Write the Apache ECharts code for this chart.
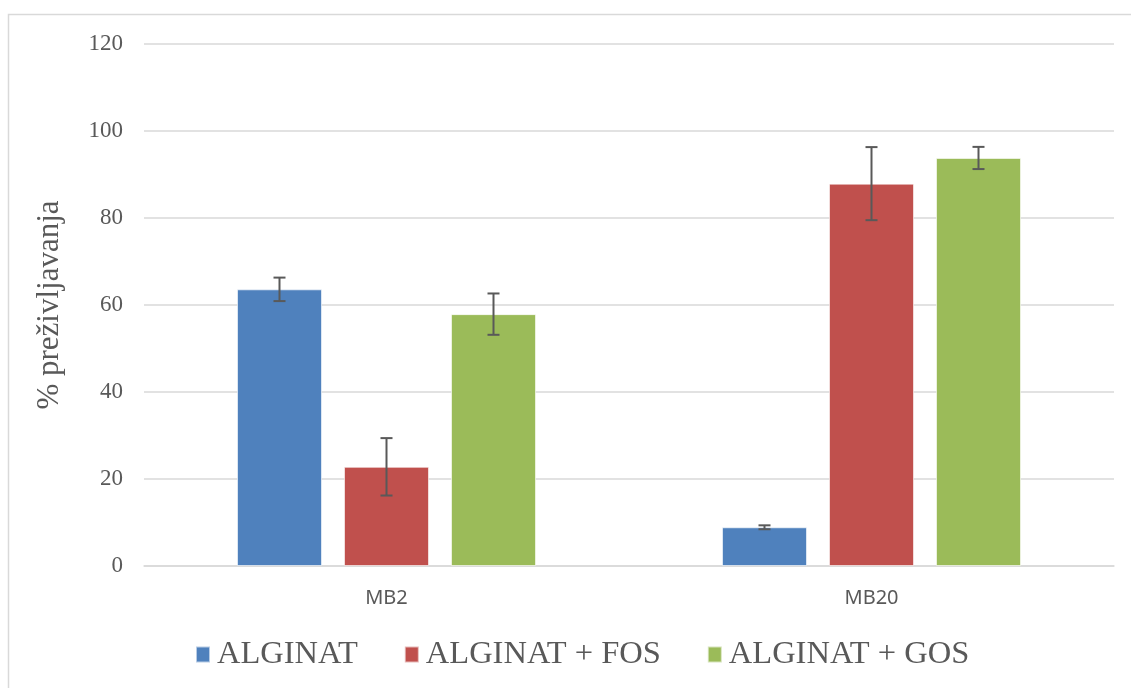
<!DOCTYPE html>
<html>
<head>
<meta charset="utf-8">
<script src="https://cdn.jsdelivr.net/npm/echarts@6/dist/echarts.min.js"></script>
<style>html,body{margin:0;padding:0;background:#fff}#c{width:1131px;height:688px}</style>
</head>
<body>
<div id="c"></div>
<script>
const categories = ['MB2', 'MB20'];
const seriesNames = ['ALGINAT', 'ALGINAT + FOS', 'ALGINAT + GOS'];
const alginat = [63.6, 8.9];
const alginatFos = [22.8, 87.9];
const alginatGos = [57.9, 93.8];
const errAlginat = [2.7, 0.45];
const errAlginatFos = [6.6, 8.4];
const errAlginatGos = [4.75, 2.55];
const yTicks = [0, 20, 40, 60, 80, 100, 120];
const yTitle = '% preživljavanja';

const colors = ['#4F81BD', '#C0504D', '#9BBB59'];
const values = [alginat, alginatFos, alginatGos];
const errs = [errAlginat, errAlginatFos, errAlginatGos];
const BAR_W = 85, BAR_GAP = 22;

const chart = echarts.init(document.getElementById('c'));
const series = [];
values.forEach((v, i) => {
  series.push({
    name: seriesNames[i], type: 'bar', data: v,
    barWidth: BAR_W, barGap: (BAR_GAP / BAR_W * 100) + '%',
    itemStyle: { color: colors[i], borderColor: 'rgba(255,255,255,0.6)', borderWidth: 1 },
    emphasis: { disabled: true }
  });
});
values.forEach((v, i) => {
  const data = v.map((val, k) => [k, val - errs[i][k], val + errs[i][k]]);
  series.push({
    type: 'custom', name: 'err' + i, data: data, z: 10, silent: true,
    renderItem: function (params, api) {
      const off = (i - 1) * (BAR_W + BAR_GAP);
      const lo = api.coord([api.value(0), api.value(1)]);
      const hi = api.coord([api.value(0), api.value(2)]);
      const x = lo[0] + off, hw = 6;
      const st = { stroke: '#595959', lineWidth: 2 };
      return { type: 'group', children: [
        { type: 'line', shape: { x1: x, y1: lo[1], x2: x, y2: hi[1] }, style: st },
        { type: 'line', shape: { x1: x - hw, y1: lo[1], x2: x + hw, y2: lo[1] }, style: st },
        { type: 'line', shape: { x1: x - hw, y1: hi[1], x2: x + hw, y2: hi[1] }, style: st }
      ]};
    }
  });
});

chart.setOption({
  animation: false,
  graphic: [{ type: 'rect', shape: { x: 8.5, y: 14.5, width: 1200, height: 800 },
    style: { fill: 'none', stroke: '#d9d9d9', lineWidth: 1.5 }, silent: true }],
  grid: { left: 144, right: 17, top: 44, bottom: 122 },
  legend: {
    data: seriesNames, left: 190, top: 633, itemWidth: 14, itemHeight: 16, itemGap: 46,
    icon: 'rect',
    textStyle: { fontFamily: 'Liberation Serif', fontSize: 32.5, color: '#595959', padding: [0, 0, 0, 2] }
  },
  xAxis: {
    type: 'category', data: categories,
    axisLine: { lineStyle: { color: '#d9d9d9', width: 1.5 } },
    axisTick: { show: false },
    axisLabel: { fontFamily: 'Noto Sans', fontSize: 20, color: '#595959', margin: 22 }
  },
  yAxis: {
    type: 'value', min: yTicks[0], max: yTicks[yTicks.length - 1], interval: 20,
    name: yTitle, nameLocation: 'middle', nameGap: 79, nameRotate: 90,
    nameTextStyle: { fontFamily: 'Liberation Serif', fontSize: 31, color: '#595959' },
    axisLine: { show: false }, axisTick: { show: false },
    splitLine: { lineStyle: { color: '#d9d9d9', width: 1.5 } },
    axisLabel: { fontFamily: 'Liberation Serif', fontSize: 23, color: '#595959', margin: 21 }
  },
  series: series
});
</script>
</body>
</html>
